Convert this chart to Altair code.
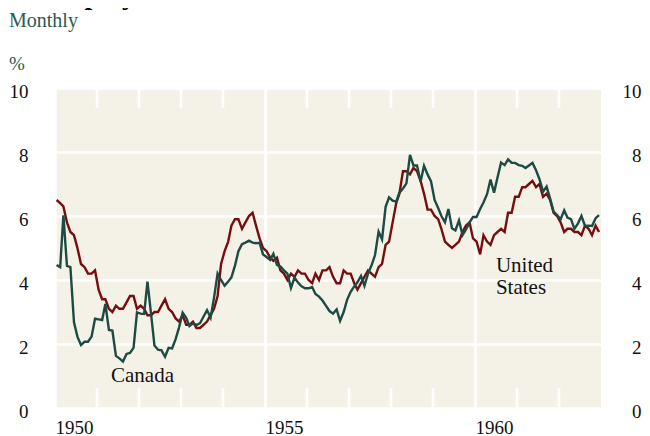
import altair as alt
import pandas as pd

years = list(range(1950, 1963))

# United States, monthly unemployment rate (%), Jan..Dec for each year
us_rate = [
    [6.5, 6.4, 6.3, 5.8, 5.5, 5.4, 5.0, 4.5, 4.4, 4.2, 4.2, 4.3],
    [3.7, 3.4, 3.4, 3.1, 3.0, 3.2, 3.1, 3.1, 3.3, 3.5, 3.5, 3.1],
    [3.2, 3.1, 2.9, 2.9, 3.0, 3.0, 3.2, 3.4, 3.1, 3.0, 2.8, 2.7],
    [2.9, 2.6, 2.6, 2.7, 2.5, 2.5, 2.6, 2.7, 2.9, 3.1, 3.5, 4.5],
    [4.9, 5.2, 5.7, 5.9, 5.9, 5.6, 5.8, 6.0, 6.1, 5.7, 5.3, 5.0],
    [4.9, 4.7, 4.6, 4.7, 4.3, 4.2, 4.0, 4.2, 4.1, 4.3, 4.2, 4.2],
    [4.0, 3.9, 4.2, 4.0, 4.3, 4.3, 4.4, 4.1, 3.9, 3.9, 4.3, 4.2],
    [4.2, 3.9, 3.7, 3.9, 4.1, 4.3, 4.2, 4.1, 4.4, 4.5, 5.1, 5.2],
    [5.8, 6.4, 6.7, 7.4, 7.4, 7.3, 7.5, 7.4, 7.1, 6.7, 6.2, 6.2],
    [6.0, 5.9, 5.6, 5.2, 5.1, 5.0, 5.1, 5.2, 5.5, 5.7, 5.8, 5.3],
    [5.2, 4.8, 5.4, 5.2, 5.1, 5.4, 5.5, 5.6, 5.5, 6.1, 6.1, 6.6],
    [6.6, 6.9, 6.9, 7.0, 7.1, 6.9, 7.0, 6.6, 6.7, 6.5, 6.1, 6.0],
    [5.8, 5.5, 5.6, 5.6, 5.5, 5.5, 5.4, 5.7, 5.6, 5.4, 5.7, 5.5],
]

# Canada, monthly unemployment rate (%), Jan..Dec for each year
canada_rate = [
    [4.47, 4.40, 6.02, 4.44, 4.40, 2.68, 2.23, 1.97, 2.07, 2.07, 2.23, 2.79],
    [2.77, 2.75, 3.25, 2.44, 2.42, 1.63, 1.55, 1.45, 1.69, 1.72, 1.88, 2.99],
    [2.95, 2.94, 3.95, 2.95, 1.95, 1.82, 1.80, 1.60, 1.88, 1.86, 2.15, 2.52],
    [2.98, 2.82, 2.56, 2.65, 2.59, 2.65, 2.85, 3.06, 2.82, 3.45, 4.20, 4.00],
    [3.82, 3.95, 4.08, 4.45, 4.90, 5.12, 5.17, 5.23, 5.17, 5.15, 5.16, 4.80],
    [4.72, 4.63, 4.82, 4.47, 4.42, 4.30, 4.20, 3.75, 4.08, 3.92, 3.80, 3.74],
    [3.74, 3.78, 3.56, 3.48, 3.36, 3.19, 3.03, 2.95, 3.08, 2.72, 3.00, 3.38],
    [3.63, 3.80, 3.93, 4.13, 3.82, 4.20, 4.45, 4.78, 5.51, 5.27, 6.29, 6.58],
    [6.48, 6.45, 6.73, 6.86, 7.02, 7.91, 7.58, 7.58, 7.07, 7.57, 7.30, 7.08],
    [6.50, 6.25, 6.00, 5.80, 6.22, 5.62, 5.55, 5.86, 5.40, 5.58, 5.80, 5.97],
    [5.97, 6.22, 6.42, 6.68, 7.14, 6.73, 7.20, 7.67, 7.59, 7.77, 7.66, 7.66],
    [7.59, 7.57, 7.50, 7.58, 7.66, 7.43, 7.15, 6.76, 6.92, 6.55, 6.14, 6.03],
    [5.90, 6.18, 5.95, 5.90, 5.60, 5.77, 6.00, 5.69, 5.70, 5.69, 5.93, 6.03],
]

y_ticks = [0, 2, 4, 6, 8, 10]
x_label_years = [1950, 1955, 1960]
minor_tick_years = [1951, 1952, 1953, 1954, 1956, 1957, 1958, 1959, 1961, 1962]

canada_label = {"date": "1952-02-01", "rate": 0.82, "label": "Canada"}
us_label = {"date": "1960-07-01", "rate": 4.26, "label": "United\nStates"}

title_text = "Unemployment Rate"
subtitle_text = "Monthly"
unit_text = "%"

SERIF = "Liberation Serif"
GREEN = "#1d4b43"
RED = "#760d10"
BG = "#f4f1e6"

dates = [f"{y}-{m:02d}-15" for y in years for m in range(1, 13)]
df_us = pd.DataFrame({"date": dates, "rate": [v for row in us_rate for v in row]})
df_ca = pd.DataFrame({"date": dates, "rate": [v for row in canada_rate for v in row]})
df_minor = pd.DataFrame({"date": [f"{y}-01-01" for y in minor_tick_years]})

xscale = alt.Scale(
    type="utc",
    domain=[alt.DateTime(year=1950, month=1, date=1, utc=True),
            alt.DateTime(year=1963, month=1, date=1, utc=True)],
)
x_axis = alt.Axis(
    values=[alt.DateTime(year=y, month=1, date=1, utc=True) for y in x_label_years],
    format="%Y", labelAlign="left", labelBaseline="top", labelPadding=10,
    grid=True, gridColor="white", gridWidth=2.6, domain=False, ticks=False, title=None,
)
x_enc = alt.X("date:T", scale=xscale, axis=x_axis)
yscale = alt.Scale(domain=[0, 10], nice=False, zero=True)

left_axis = alt.Axis(values=y_ticks, grid=True, gridColor="white", gridWidth=2.6,
                     domain=False, ticks=False, labelPadding=27, labelOffset=3, title=None)
right_axis = alt.Axis(orient="right", values=y_ticks, grid=False, domain=False, ticks=False,
                      labelAlign="right", labelPadding=40, labelOffset=3, title=None)

minor_bottom = alt.Chart(df_minor).mark_rule(color="white", strokeWidth=2.6).encode(
    x=x_enc, y=alt.value(300), y2=alt.value(320)
)
minor_top = alt.Chart(df_minor).mark_rule(color="white", strokeWidth=2.6).encode(
    x=x_enc, y=alt.value(0), y2=alt.value(20)
)

us_line = alt.Chart(df_us).mark_line(color=RED, strokeWidth=2.4).encode(
    x=x_enc, y=alt.Y("rate:Q", scale=yscale, axis=left_axis)
)
ca_line = alt.Chart(df_ca).mark_line(color=GREEN, strokeWidth=2.4).encode(
    x=x_enc, y=alt.Y("rate:Q", scale=yscale, axis=right_axis)
)

ca_text = alt.Chart(pd.DataFrame([canada_label])).mark_text(
    font=SERIF, fontSize=21, color="#111111", align="center", baseline="alphabetic",
).encode(x=x_enc, y=alt.Y("rate:Q", scale=yscale, axis=None), text="label:N")

us_text = alt.Chart(pd.DataFrame([us_label])).mark_text(
    font=SERIF, fontSize=21, color="#111111", align="left", baseline="alphabetic",
    lineBreak="\n", lineHeight=22,
).encode(x=x_enc, y=alt.Y("rate:Q", scale=yscale, axis=None), text="label:N")

title = alt.Chart(pd.DataFrame({"t": [title_text]})).mark_text(
    font=SERIF, fontSize=28, fontWeight="bold", color="#000000", align="left", baseline="alphabetic"
).encode(text="t:N", x=alt.value(-42), y=alt.value(-84))

subtitle = alt.Chart(pd.DataFrame({"t": [subtitle_text]})).mark_text(
    font=SERIF, fontSize=20, color="#2b5a50", align="left", baseline="alphabetic"
).encode(text="t:N", x=alt.value(-46), y=alt.value(-61))

unit = alt.Chart(pd.DataFrame({"t": [unit_text]})).mark_text(
    font=SERIF, fontSize=19, color="#2b5a50", align="left", baseline="alphabetic"
).encode(text="t:N", x=alt.value(-46), y=alt.value(-18))

chart = alt.layer(
    minor_bottom, minor_top, us_line, ca_line, ca_text, us_text, title, subtitle, unit
).resolve_axis(
    y="independent"
).properties(
    width=546, height=320,
    autosize=alt.AutoSizeParams(type="none"),
    padding={"left": 47, "top": 80, "right": 41, "bottom": 28},
).configure_view(fill=BG, stroke=None).configure_axis(
    labelFont=SERIF, labelFontSize=19, labelColor="#111111"
)

chart.save("out.html", embed_options={"renderer": "svg", "actions": False})
